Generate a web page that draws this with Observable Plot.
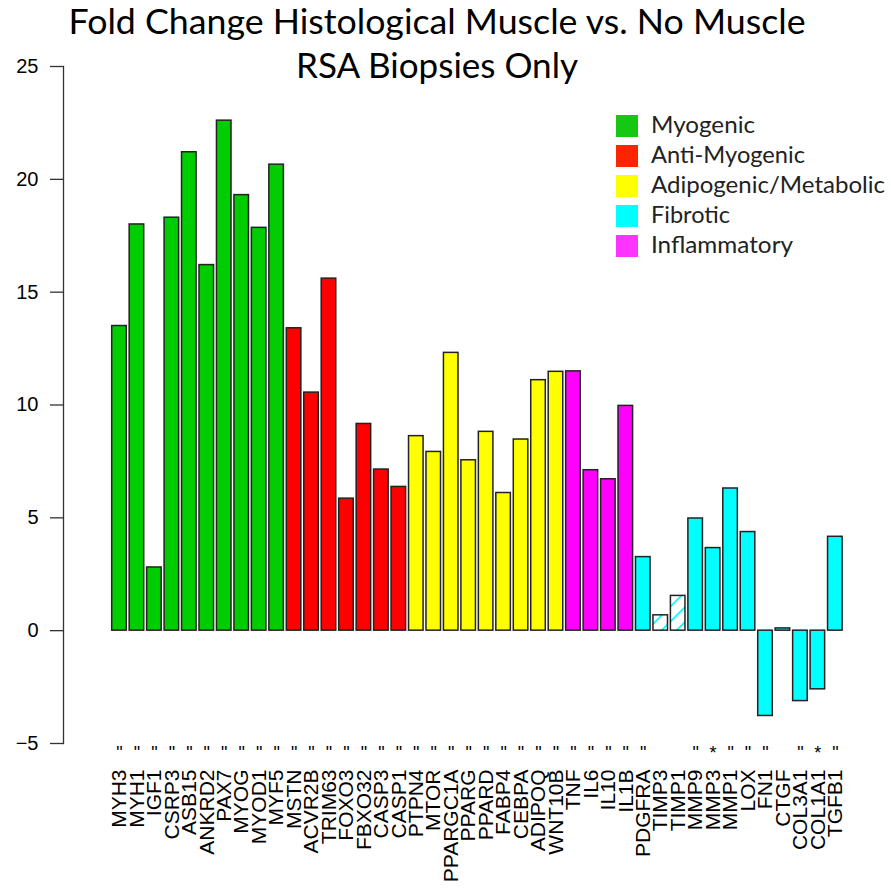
<!DOCTYPE html>
<html><head><meta charset="utf-8">
<script src="https://cdn.jsdelivr.net/npm/d3@7"></script>
<script src="https://cdn.jsdelivr.net/npm/@observablehq/plot@0.6"></script>
<style>
body{margin:0;background:#fff;}
#wrap{position:relative;width:891px;height:888px;}
#overlay{position:absolute;left:0;top:0;pointer-events:none;}
</style></head><body><div id="wrap"></div>
<script>
const titleLines = ["Fold Change Histological Muscle vs. No Muscle", "RSA Biopsies Only"];
const genes = ["MYH3","MYH1","IGF1","CSRP3","ASB15","ANKRD2","PAX7","MYOG","MYOD1","MYF5",
  "MSTN","ACVR2B","TRIM63","FOXO3","FBXO32","CASP3","CASP1",
  "PTPN4","MTOR","PPARGC1A","PPARG","PPARD","FABP4","CEBPA","ADIPOQ","WNT10B",
  "TNF","IL6","IL10","IL1B",
  "PDGFRA","TIMP3","TIMP1","MMP9","MMP3","MMP1","LOX","FN1","CTGF","COL3A1","COL1A1","TGFB1"];
const values = [13.5,18.0,2.8,18.3,21.2,16.2,22.6,19.3,17.85,20.65,
  13.4,10.55,15.6,5.85,9.16,7.14,6.37,
  8.62,7.92,12.31,7.55,8.81,6.1,8.47,11.1,11.47,
  11.49,7.11,6.71,9.96,
  3.26,0.68,1.54,4.97,3.66,6.3,4.37,-3.78,0.1,-3.12,-2.6,4.16];
const groups = ["Myo","Myo","Myo","Myo","Myo","Myo","Myo","Myo","Myo","Myo",
  "Anti","Anti","Anti","Anti","Anti","Anti","Anti",
  "Adi","Adi","Adi","Adi","Adi","Adi","Adi","Adi","Adi",
  "Inf","Inf","Inf","Inf",
  "Fib","Fib","Fib","Fib","Fib","Fib","Fib","Fib","Fib","Fib","Fib","Fib"];
const sig = ['"','"','"','"','"','"','"','"','"','"',
  '"','"','"','"','"','"','"',
  '"','"','"','"','"','"','"','"','"',
  '"','"','"','"',
  '"','','','"','*','"','"','"','','"','*','"'];
const hatchedGenes = ["TIMP3","TIMP1"];
const groupKeys = ["Myo","Anti","Adi","Fib","Inf"];
const groupNames = ["Myogenic","Anti-Myogenic","Adipogenic/Metabolic","Fibrotic","Inflammatory"];
const barColors = ["#00CD00","#FF0000","#FFFF00","#00FFFF","#FF00FF"];
const legendColors = ["#14C814","#FF2400","#FFFF00","#00FFFF","#FF33FF"];
const yTicks = [-5,0,5,10,15,20,25];

const data = genes.map((g,i)=>({gene:g, value:values[i], group:groups[i], mark:sig[i]}));

const defsMark = () => {
  const defs = d3.create("svg:defs");
  const p = defs.append("pattern").attr("id","hatch").attr("patternUnits","userSpaceOnUse")
    .attr("width",15).attr("height",15).attr("y",2);
  p.append("rect").attr("width",15).attr("height",15).attr("fill","#fff");
  p.append("path").attr("d","M-4,4 L4,-4 M0,15 L15,0 M11,19 L19,11")
    .attr("stroke","#00FFFF").attr("stroke-width",1.6);
  return defs.node();
};

const chart = Plot.plot({
  width: 891, height: 888,
  marginTop: 66, marginBottom: 145, marginLeft: 63, marginRight: 40,
  x: {type:"band", domain: genes, range:[111.7, 842.1], paddingInner: 1/6, paddingOuter: 0, align: 0.5, round: false, axis: null},
  y: {domain:[-5,25], axis:null},
  color: {type:"ordinal", domain: groupKeys, range: barColors},
  style: {fontFamily: "'Liberation Sans', Arial, sans-serif", background:"#fff", color:"#000"},
  marks: [
    defsMark,
    Plot.axisY({ticks: yTicks, label: null, tickSize: 13, tickPadding: 12, fontSize: 20, stroke:"#333", strokeWidth:1.3}),
    Plot.frame({anchor:"left", stroke:"#333", strokeWidth:1.3}),
    Plot.barY(data.filter(d=>!hatchedGenes.includes(d.gene)), {x:"gene", y:"value", fill:"group", stroke:"#222", strokeWidth:1.5}),
    Plot.barY(data.filter(d=>hatchedGenes.includes(d.gene)), {x:"gene", y:"value", fill:"url(#hatch)", stroke:"#222", strokeWidth:1.5}),
    Plot.text(data.filter(d=>d.mark), {x:"gene", text:"mark", frameAnchor:"bottom", dy:3, lineAnchor:"top", fontSize:18}),
    Plot.text(data, {x:"gene", text:"gene", frameAnchor:"bottom", dy:26, rotate:-90, textAnchor:"end", lineAnchor:"middle", fontSize:21})
  ]
});
document.getElementById("wrap").appendChild(chart);

const ov = d3.select("#wrap").append("svg").attr("id","overlay").attr("width",891).attr("height",888)
  .style("font-family","Lato, 'Open Sans', sans-serif");
const titleW = [737, 282];
const titleY = [34, 78];
titleLines.forEach((t,i)=>{
  ov.append("text").attr("x",437).attr("y",titleY[i]).attr("text-anchor","middle")
    .attr("font-size",34).attr("fill","#000")
    .attr("textLength",titleW[i]).attr("lengthAdjust","spacingAndGlyphs").text(t);
});
const legW = [104,154,234,79,142];
groupNames.forEach((n,i)=>{
  const top = 115 + i*30;
  ov.append("rect").attr("x",616).attr("y",top).attr("width",22).attr("height",22).attr("fill",legendColors[i]);
  ov.append("text").attr("x",651).attr("y",top+18).attr("font-size",24).attr("fill","#222")
    .attr("textLength",legW[i]).attr("lengthAdjust","spacingAndGlyphs").text(n);
});
</script></body></html>
